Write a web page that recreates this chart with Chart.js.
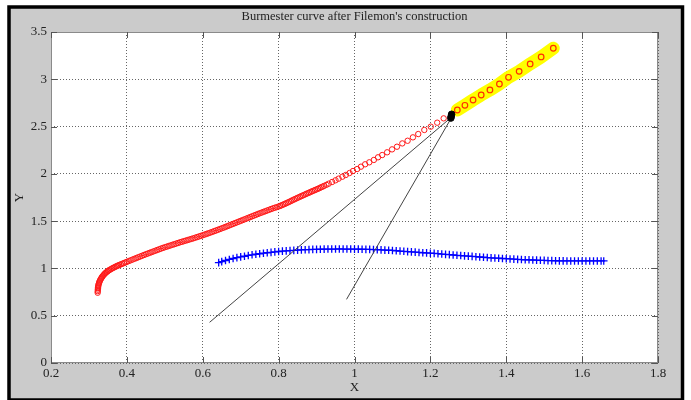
<!DOCTYPE html>
<html>
<head>
<meta charset="utf-8">
<script src="https://cdn.jsdelivr.net/npm/chart.js@4.4.0/dist/chart.umd.min.js"></script>
<style>
  html, body { margin:0; padding:0; background:#fff; }
  canvas { display:block; }
</style>
</head>
<body>
<canvas id="burmester" width="691" height="400"></canvas>
<script>
// chart data
const xTickValues = [0.2,0.4,0.6,0.8,1.0,1.2,1.4,1.6,1.8];
const xTickLabels = ['0.2','0.4','0.6','0.8','1','1.2','1.4','1.6','1.8'];
const yTickValues = [0,0.5,1.0,1.5,2.0,2.5,3.0,3.5];
const yTickLabels = ['0','0.5','1','1.5','2','2.5','3','3.5'];

// red circles: the curve (dense at the lower end)
const redX = [0.323,0.3232,0.3235,0.3238,0.324,0.3245,0.325,0.326,0.327,0.328,0.329,0.3305,0.332,0.3335,0.335,0.337,0.339,0.341,
  0.343,0.3455,0.348,0.3505,0.353,0.356,0.359,0.362,0.365,0.368,0.371,0.374,0.377,0.380,0.384,0.388,0.392,0.396,
  0.400,0.405,0.410,0.415,0.420,0.425,0.430,0.435,0.440,0.445,0.450,0.455,0.460,0.465,0.470,0.475,0.480,0.485,0.490,0.495,
  0.500,0.505,0.510,0.515,0.520,0.525,0.530,0.535,0.540,0.545,0.550,0.555,0.560,0.565,0.570,0.575,0.580,0.585,0.590,0.595,
  0.600,0.605,0.610,0.615,0.620,0.625,0.630,0.635,0.640,0.645,0.650,0.655,0.660,0.665,0.670,0.675,0.680,0.685,0.690,0.695,
  0.700,0.705,0.710,0.715,0.720,0.725,0.730,0.735,0.740,0.745,0.750,0.755,0.760,0.765,0.770,0.775,0.780,0.785,0.790,0.795,
  0.800,0.804,0.808,0.812,0.816,0.820,0.824,0.828,0.832,0.836,0.840,0.844,0.848,0.852,0.856,0.860,0.864,0.868,0.872,0.876,
  0.880,0.884,0.888,0.892,0.896,0.900,0.904,0.908,0.912,0.916,0.920,0.926,
  0.932,0.941,0.950,0.958,0.968,0.977,0.987,0.996,1.007,1.017,1.028,1.039,1.051,1.062,1.073,1.086,
  1.099,1.112,1.126,1.140,1.154,1.168,1.184,1.201,1.218,1.235];
const redY = [0.743,0.760,0.775,0.790,0.800,0.812,0.825,0.838,0.850,0.861,0.872,0.883,0.893,0.903,0.913,0.923,0.932,0.941,
  0.950,0.958,0.966,0.974,0.981,0.988,0.995,1.002,1.008,1.014,1.020,1.026,1.031,1.037,1.043,1.050,1.056,1.063,
  1.070,1.078,1.086,1.094,1.102,1.110,1.118,1.126,1.134,1.142,1.150,1.157,1.165,1.172,1.180,1.187,1.195,1.202,1.210,1.217,
  1.224,1.230,1.237,1.243,1.250,1.256,1.263,1.269,1.276,1.282,1.288,1.294,1.300,1.306,1.312,1.318,1.325,1.331,1.338,1.344,
  1.351,1.358,1.365,1.372,1.379,1.386,1.394,1.401,1.409,1.416,1.424,1.431,1.439,1.447,1.455,1.463,1.471,1.479,1.487,1.495,
  1.503,1.511,1.519,1.527,1.535,1.543,1.551,1.559,1.567,1.575,1.583,1.590,1.598,1.605,1.613,1.620,1.628,1.635,1.642,1.648,
  1.655,1.661,1.668,1.675,1.682,1.689,1.697,1.704,1.712,1.720,1.728,1.735,1.743,1.750,1.758,1.765,1.772,1.779,1.787,1.794,
  1.801,1.808,1.815,1.822,1.829,1.836,1.843,1.850,1.858,1.865,1.873,1.884,
  1.896,1.914,1.932,1.949,1.970,1.988,2.009,2.030,2.051,2.076,2.101,2.122,2.147,2.175,2.199,2.228,
  2.259,2.287,2.322,2.350,2.386,2.421,2.464,2.499,2.541,2.587];

// highlighted part of the curve (yellow)
const hiX = [1.271,1.291,1.3125,1.334,1.357,1.382,1.406,1.434,1.463,1.492,1.524];
const hiY = [2.675,2.725,2.781,2.834,2.887,2.950,3.021,3.084,3.162,3.236,3.328];

// blue crosses
const blueX = [0.642,0.65,0.66,0.67,0.68,0.69,0.70,0.71,0.72,0.73,0.74,0.75,0.76,0.77,0.78,0.79,
  0.80,0.81,0.82,0.83,0.84,0.85,0.86,0.87,0.88,0.89,0.90,0.91,0.92,0.93,0.94,0.95,0.96,0.97,0.98,0.99,
  1.00,1.01,1.02,1.03,1.04,1.05,1.06,1.07,1.08,1.09,1.10,1.11,1.12,1.13,1.14,1.15,1.16,1.17,1.18,1.19,
  1.20,1.21,1.22,1.23,1.24,1.25,1.26,1.27,1.28,1.29,1.30,1.31,1.32,1.33,1.34,1.35,1.36,1.37,1.38,1.39,
  1.40,1.41,1.42,1.43,1.44,1.45,1.46,1.47,1.48,1.49,1.50,1.51,1.52,1.53,1.54,1.55,1.56,1.57,1.58,1.59,
  1.60,1.61,1.62,1.63,1.64,1.65,1.657];
const blueY = [1.061,1.072,1.084,1.095,1.105,1.114,1.122,1.129,1.137,1.144,1.150,1.155,1.161,1.166,1.170,1.175,
  1.179,1.183,1.186,1.189,1.191,1.194,1.196,1.198,1.199,1.201,1.202,1.203,1.204,1.205,1.205,1.205,1.206,1.205,1.205,1.205,
  1.204,1.204,1.203,1.202,1.201,1.199,1.198,1.196,1.194,1.192,1.190,1.187,1.184,1.181,1.178,1.175,1.172,1.169,1.166,1.164,
  1.161,1.159,1.156,1.152,1.149,1.146,1.142,1.139,1.136,1.133,1.130,1.127,1.124,1.121,1.118,1.115,1.112,1.110,1.108,1.105,
  1.103,1.100,1.098,1.096,1.094,1.092,1.091,1.089,1.088,1.086,1.085,1.083,1.082,1.081,1.080,1.080,1.079,1.079,1.079,1.079,
  1.079,1.079,1.079,1.079,1.079,1.079,1.079];

// construction lines, both ending at the pole
const line1X = [0.618,1.257];
const line1Y = [0.430,2.604];
const line2X = [0.979,1.257];
const line2Y = [0.673,2.604];

// the pole (black blob)
const poleX = [1.254,1.255,1.256];
const poleY = [2.590,2.610,2.630];

const serif = '"Liberation Serif", "Times New Roman", serif';

function pts(xs, ys){ return xs.map((x,i)=>({x:x, y:ys[i]})); }

const framePlugin = {
  id:'frame',
  beforeDraw(chart){
    const ctx = chart.ctx, a = chart.chartArea;
    ctx.save();
    ctx.fillStyle = '#fff';
    ctx.fillRect(0,0,chart.width,chart.height);
    ctx.fillStyle = '#cbcbcb';
    ctx.fillRect(9,7,673.5,393);
    ctx.strokeStyle = '#000';
    ctx.lineWidth = 3.5;
    ctx.strokeRect(9,7,673.5,393);
    ctx.fillStyle = '#fff';
    ctx.fillRect(a.left,a.top,a.right-a.left,a.bottom-a.top);
    ctx.restore();
  },
  afterDraw(chart){
    const ctx = chart.ctx, a = chart.chartArea;
    const xs = chart.scales.x, ys = chart.scales.y;
    ctx.save();
    ctx.strokeStyle = '#8a8a8a';
    ctx.lineWidth = 1;
    ctx.strokeRect(a.left+0.5,a.top+0.5,a.right-a.left-1,a.bottom-a.top-1);
    ctx.strokeStyle = '#555';
    ctx.beginPath();
    xTickValues.forEach(v=>{
      const px = Math.round(xs.getPixelForValue(v))+0.5;
      ctx.moveTo(px,a.bottom); ctx.lineTo(px,a.bottom-6);
      ctx.moveTo(px,a.top); ctx.lineTo(px,a.top+6);
    });
    yTickValues.forEach(v=>{
      const py = Math.round(ys.getPixelForValue(v))+0.5;
      ctx.moveTo(a.left,py); ctx.lineTo(a.left+6,py);
      ctx.moveTo(a.right,py); ctx.lineTo(a.right-6,py);
    });
    ctx.stroke();
    ctx.restore();
  }
};

new Chart(document.getElementById('burmester').getContext('2d'), {
  type:'scatter',
  data:{
    datasets:[
      {label:'pole', data:pts(poleX,poleY), pointStyle:'circle', pointRadius:3.3,
        backgroundColor:'#000', borderColor:'#000', borderWidth:1},
      {label:'highlight marks', data:pts(hiX,hiY), pointStyle:'circle', pointRadius:2.8,
        backgroundColor:'rgba(0,0,0,0)', borderColor:'#ff3000', borderWidth:1.2},
      {label:'highlight', data:pts(hiX,hiY), showLine:true, pointRadius:0,
        borderColor:'#ffff00', borderWidth:13, borderCapStyle:'round', borderJoinStyle:'round'},
      {label:'line 1', data:pts(line1X,line1Y), showLine:true, pointRadius:0,
        borderColor:'#444', borderWidth:1},
      {label:'line 2', data:pts(line2X,line2Y), showLine:true, pointRadius:0,
        borderColor:'#444', borderWidth:1},
      {label:'curve', data:pts(redX,redY), pointStyle:'circle', pointRadius:2.7,
        backgroundColor:'rgba(0,0,0,0)', borderColor:'#ff1a1a', borderWidth:1},
      {label:'blue', data:pts(blueX,blueY), pointStyle:'cross', pointRadius:3.8,
        borderColor:'#0000ff', borderWidth:1.3}
    ]
  },
  options:{
    responsive:false,
    animation:false,
    events:[],
    layout:{padding:{left:0, right:33, top:0, bottom:0}},
    plugins:{
      legend:{display:false},
      tooltip:{enabled:false},
      title:{display:true, fullSize:false, text:"Burmester curve after Filemon's construction",
        color:'#222', font:{family:serif, size:12.5, weight:'normal'},
        padding:{top:9.5, bottom:7.5}}
    },
    scales:{
      x:{type:'linear', min:0.2, max:1.8,
        afterBuildTicks:(s)=>{ s.ticks = xTickValues.map(v=>({value:v})); },
        afterFit:(s)=>{ s.height = 37; },
        ticks:{callback:(v,i)=>xTickLabels[i], padding:3, color:'#222',
          font:{family:serif, size:13}, maxRotation:0, autoSkip:false},
        grid:{color:'#666', lineWidth:1, drawTicks:false},
        border:{display:false, dash:[1,2]},
        title:{display:true, text:'X', color:'#222', font:{family:serif, size:13},
          padding:{top:0, bottom:4.2}}
      },
      y:{type:'linear', min:0, max:3.5,
        afterBuildTicks:(s)=>{ s.ticks = yTickValues.map(v=>({value:v})); },
        afterFit:(s)=>{ s.width = 51; },
        ticks:{callback:(v,i)=>yTickLabels[i], padding:4, color:'#222',
          font:{family:serif, size:13}, autoSkip:false},
        grid:{color:'#666', lineWidth:1, drawTicks:false},
        border:{display:false, dash:[1,2]},
        title:{display:true, text:'Y', color:'#222', font:{family:serif, size:13},
          padding:{top:11.7, bottom:0}}
      }
    }
  },
  plugins:[framePlugin]
});
</script>
</body>
</html>
